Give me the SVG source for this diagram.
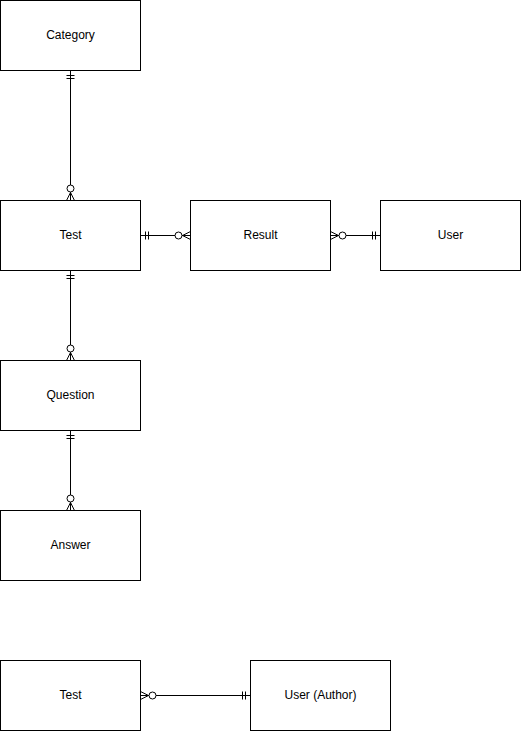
<svg xmlns="http://www.w3.org/2000/svg" width="521" height="731" viewBox="0 0 521 731">
<style>
.box{fill:#fff;stroke:#000;stroke-width:1}
.lbl{font-family:"Liberation Sans",Arial,sans-serif;font-size:12px;fill:#000;text-anchor:middle;dominant-baseline:central}
.ln{fill:none;stroke:#000;stroke-width:1}
.circ{fill:#fff;stroke:#000;stroke-width:1}
</style>
<rect width="521" height="731" fill="#fff"/>
<g id="connectors">
  <!-- Category - Test -->
  <path class="ln" d="M70.5 70.5 V200.5"/>
  <path class="ln" d="M66.5 75.5 H74.5 M66.5 78.5 H74.5"/>
  <path class="ln" d="M66.5 200.5 L70.5 192.5 L74.5 200.5 M70.5 192.5 V200.5"/>
  <circle class="circ" cx="70.5" cy="188.5" r="3.5"/>
  <!-- Test - Question -->
  <path class="ln" d="M70.5 270.5 V360.5"/>
  <path class="ln" d="M66.5 275.5 H74.5 M66.5 278.5 H74.5"/>
  <path class="ln" d="M66.5 360.5 L70.5 352.5 L74.5 360.5 M70.5 352.5 V360.5"/>
  <circle class="circ" cx="70.5" cy="348.5" r="3.5"/>
  <!-- Question - Answer -->
  <path class="ln" d="M70.5 430.5 V510.5"/>
  <path class="ln" d="M66.5 435.5 H74.5 M66.5 438.5 H74.5"/>
  <path class="ln" d="M66.5 510.5 L70.5 502.5 L74.5 510.5 M70.5 502.5 V510.5"/>
  <circle class="circ" cx="70.5" cy="498.5" r="3.5"/>
  <!-- Test - Result -->
  <path class="ln" d="M140.5 235.5 H190.5"/>
  <path class="ln" d="M145.5 231.5 V239.5 M148.5 231.5 V239.5"/>
  <path class="ln" d="M190.5 231.5 L182.5 235.5 L190.5 239.5 M182.5 235.5 H190.5"/>
  <circle class="circ" cx="178.5" cy="235.5" r="3.5"/>
  <!-- Result - User -->
  <path class="ln" d="M330.5 235.5 H380.5"/>
  <path class="ln" d="M330.5 231.5 L338.5 235.5 L330.5 239.5 M330.5 235.5 H338.5"/>
  <circle class="circ" cx="342.5" cy="235.5" r="3.5"/>
  <path class="ln" d="M372.5 231.5 V239.5 M375.5 231.5 V239.5"/>
  <!-- Test - User (Author) -->
  <path class="ln" d="M140.5 695.5 H250.5"/>
  <path class="ln" d="M140.5 691.5 L148.5 695.5 L140.5 699.5 M140.5 695.5 H148.5"/>
  <circle class="circ" cx="152.5" cy="695.5" r="3.5"/>
  <path class="ln" d="M242.5 691.5 V699.5 M245.5 691.5 V699.5"/>
</g>
<g id="category"><rect class="box" x="0.5" y="0.5" width="140" height="70"/><text class="lbl" x="70.5" y="34.5">Category</text></g>
<g id="test"><rect class="box" x="0.5" y="200.5" width="140" height="70"/><text class="lbl" x="70.5" y="234.5">Test</text></g>
<g id="result"><rect class="box" x="190.5" y="200.5" width="140" height="70"/><text class="lbl" x="260.5" y="234.5">Result</text></g>
<g id="user"><rect class="box" x="380.5" y="200.5" width="140" height="70"/><text class="lbl" x="450.5" y="234.5">User</text></g>
<g id="question"><rect class="box" x="0.5" y="360.5" width="140" height="70"/><text class="lbl" x="70.5" y="394.5">Question</text></g>
<g id="answer"><rect class="box" x="0.5" y="510.5" width="140" height="70"/><text class="lbl" x="70.5" y="544.5">Answer</text></g>
<g id="test2"><rect class="box" x="0.5" y="660.5" width="140" height="70"/><text class="lbl" x="70.5" y="694.5">Test</text></g>
<g id="user-author"><rect class="box" x="250.5" y="660.5" width="140" height="70"/><text class="lbl" x="320.5" y="694.5">User (Author)</text></g>
</svg>
